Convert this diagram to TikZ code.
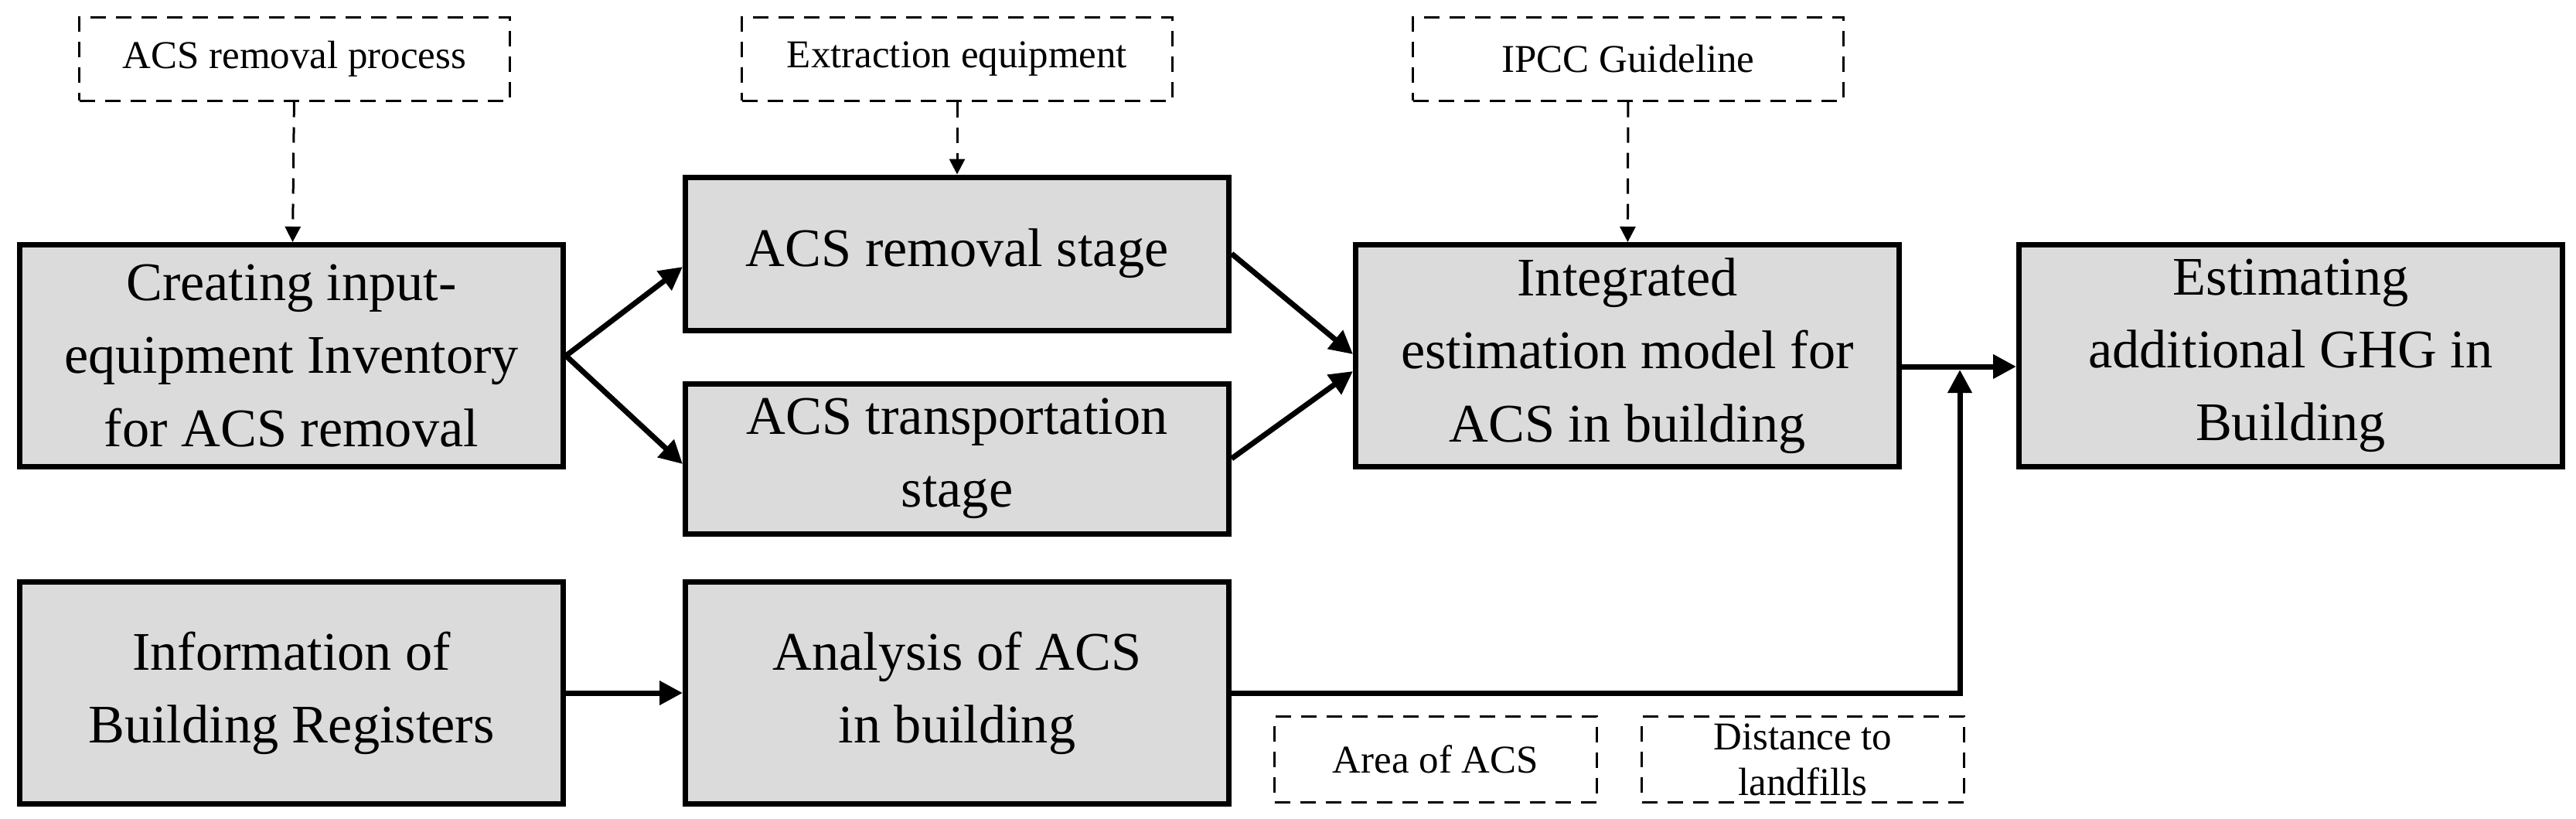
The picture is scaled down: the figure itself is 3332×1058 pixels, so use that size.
\documentclass[tikz,border=0pt]{standalone}
\usepackage{fontspec}
\setmainfont{Liberation Serif}
\usetikzlibrary{arrows.meta,positioning}

\tikzset{
    stage/.style={draw, line width=0.7mm, fill=gray!28, minimum width=70.3mm,
        minimum height=28.7mm, align=center, inner sep=0pt,
        font=\fontsize{20}{26.8}\selectfont},
    source/.style={draw, dashed, line width=0.3mm, dash pattern=on 2mm off 1.3mm,
        minimum width=55.7mm, minimum height=10.8mm, align=center, inner sep=0pt,
        font=\fontsize{14.5}{17}\selectfont},
    flow/.style={line width=0.7mm, -{Triangle[length=3mm,width=3mm]}},
    feed/.style={line width=0.3mm, dash pattern=on 2mm off 1.3mm,
        -{Triangle[length=2mm,width=2mm]}}
}

\begin{document}
\begin{tikzpicture}[x=0.1mm, y=-0.1mm]
    \useasboundingbox (0,0) rectangle (3332,1058);

    % --- main stages ---
    \node[stage] (creat) at (377,460) {Creating input-\\equipment Inventory\\for ACS removal};
    \node[stage, minimum height=19.8mm] (rem) at (1238,328) {ACS removal stage};
    \node[stage, minimum height=19.4mm] (trans) at (1238,593) {ACS transportation\\stage};
    \node[stage] (integ) at (2105,460) {Integrated\\estimation model for\\ACS in building};
    \node[stage] (est) at (2963,460) {Estimating\\additional GHG in\\Building};
    \node[stage] (info) at (377,896) {Information of\\Building Registers};
    \node[stage] (anal) at (1238,896) {Analysis of ACS\\in building};

    % --- input data ---
    \node[source] (proc) at (381,76) {ACS removal process};
    \node[source] (extr) at (1238,76) {Extraction equipment};
    \node[source] (ipcc) at (2106,76) {IPCC Guideline};
    \node[source, minimum width=41.7mm, minimum height=11.1mm] (area) at (1857,982) {Area of ACS};
    \node[source, minimum width=41.7mm, minimum height=11.1mm, text depth=-6mm] (dist) at (2332,982) {Distance to\\landfills};

    % --- dashed feeds ---
    \draw[feed] (proc) -- (creat);
    \draw[feed] (extr) -- (rem);
    \draw[feed] (ipcc) -- (integ);

    % --- flows ---
    \draw[flow] (creat.east) -- ([yshift=-1.7mm]rem.west);
    \draw[flow] (creat.east) -- ([yshift=-0.7mm]trans.west);
    \draw[flow] (rem.east) -- ([yshift=0.2mm]integ.west);
    \draw[flow] (trans.east) -- ([yshift=-2mm]integ.west);
    \draw[flow] ([yshift=-1.4mm]integ.east) -- ([yshift=-1.4mm]est.west);
    \coordinate (join) at (2535,478);
    \draw[flow] (anal.east) -| (join);
    \draw[flow] (info) -- (anal);
\end{tikzpicture}
\end{document}
